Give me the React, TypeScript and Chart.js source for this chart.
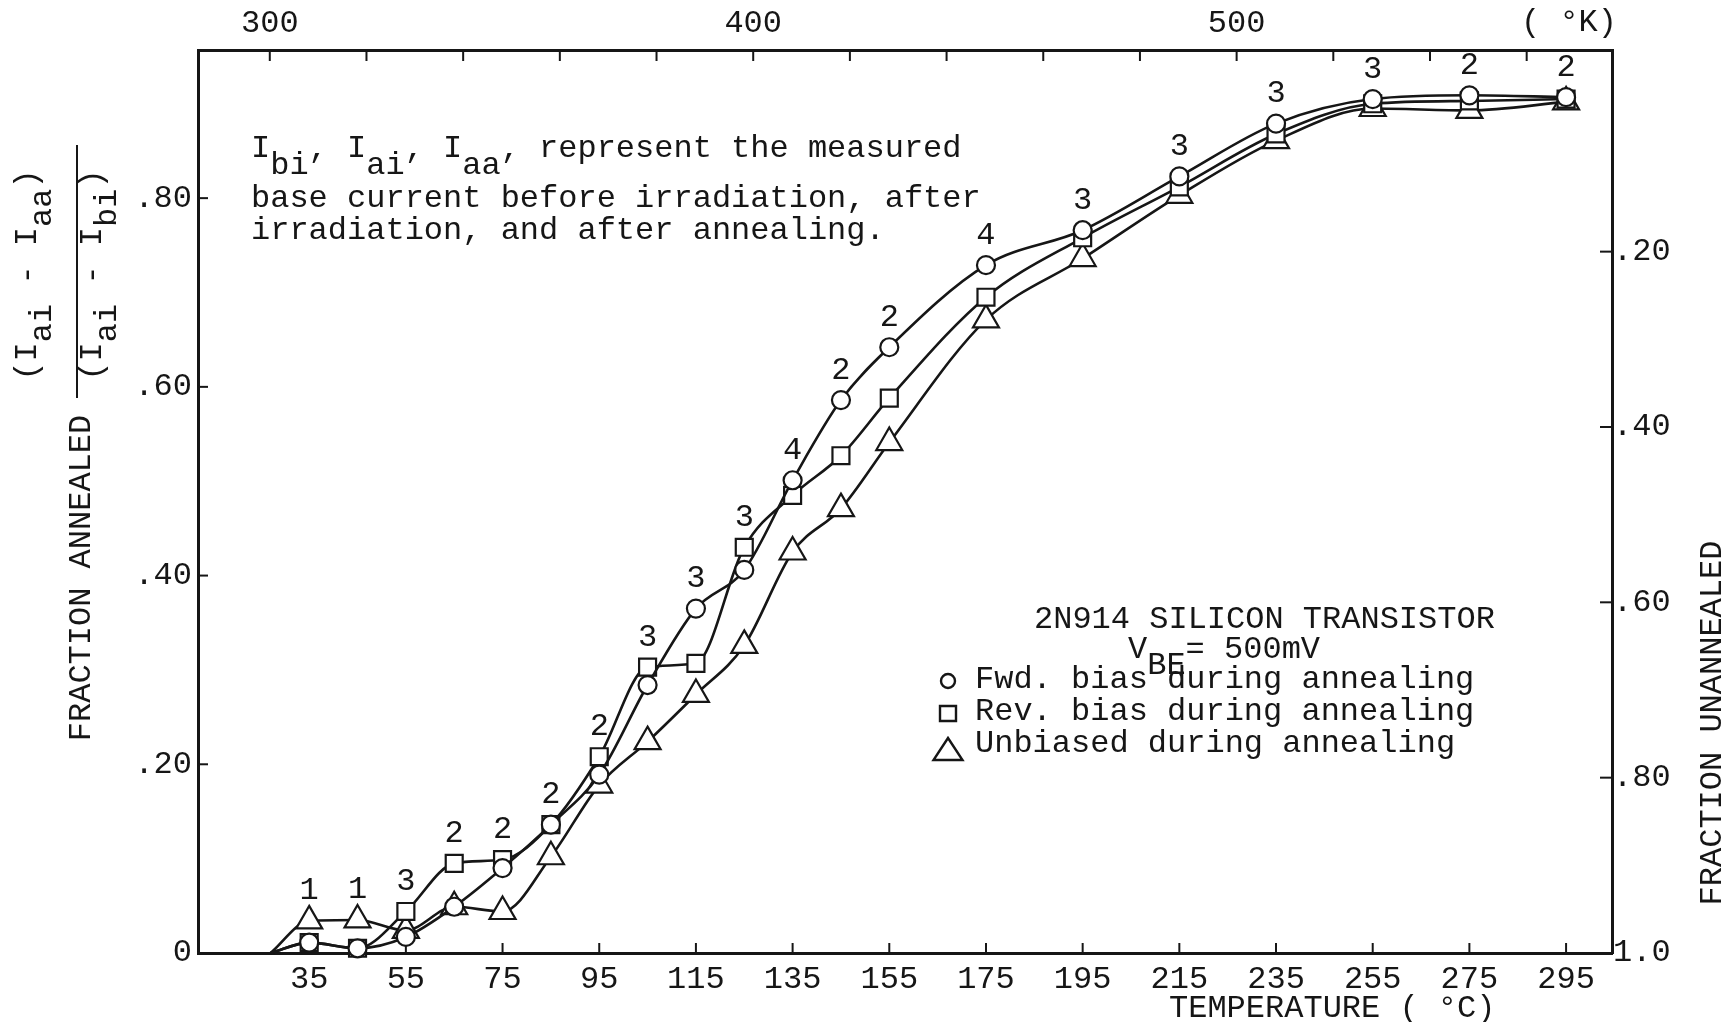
import React, { useEffect, useRef } from 'react';
import { Chart, registerables } from 'chart.js';

Chart.register(...registerables);

// ---------- data ----------
const temperaturesC = [27, 35, 45, 55, 65, 75, 85, 95, 105, 115, 125, 135, 145, 155, 175, 195, 215, 235, 255, 275, 295];
const fwdBias = [0, 0.011, 0.005, 0.017, 0.049, 0.090, 0.136, 0.189, 0.284, 0.365, 0.406, 0.501, 0.586, 0.642, 0.729, 0.766, 0.823, 0.879, 0.905, 0.909, 0.907];
const revBias = [0, 0.011, 0.005, 0.044, 0.095, 0.099, 0.136, 0.208, 0.303, 0.307, 0.430, 0.485, 0.527, 0.588, 0.695, 0.758, 0.812, 0.868, 0.900, 0.903, 0.905];
const unbiased = [0, 0.034, 0.035, 0.024, 0.049, 0.044, 0.102, 0.178, 0.224, 0.274, 0.326, 0.425, 0.471, 0.541, 0.671, 0.736, 0.803, 0.861, 0.895, 0.893, 0.902];
const sampleCounts = [null, 1, 1, 3, 2, 2, 2, 2, 3, 3, 3, 4, 2, 2, 4, 3, 3, 3, 3, 2, 2];
const seriesNames = ['Fwd. bias during annealing', 'Rev. bias during annealing', 'Unbiased during annealing'];

const celsiusTicks = [35, 55, 75, 95, 115, 135, 155, 175, 195, 215, 235, 255, 275, 295];
const kelvinTicks = [300, 320, 340, 360, 380, 400, 420, 440, 460, 480, 500, 520, 540, 560];
const kelvinLabels = [300, 400, 500];
const annealedTicks = [0, 0.2, 0.4, 0.6, 0.8];
const unannealedTicks = [0.2, 0.4, 0.6, 0.8, 1.0];

const X_MIN_C = 12;
const X_MAX_C = 304.5;
const KELVIN_OFFSET = 273.15;
const Y_MAX = 0.957;
const Y2_MIN = -0.03;
const Y2_MAX = 1.0;

const noteLine1: [string, number][] = [['I', 0], ['bi', 17], [', I', 0], ['ai', 17], [', I', 0], ['aa', 17], [', represent the measured', 0]];
const noteLine2 = 'base current before irradiation, after';
const noteLine3 = 'irradiation, and after annealing.';
const legendTitle = '2N914 SILICON TRANSISTOR';
const legendVbe: [string, number][] = [['V', 0], ['BE', 16], ['= 500mV', 0]];
const xTitle = 'TEMPERATURE ( °C)';
const x2Title = '( °K)';
const yTitle = 'FRACTION ANNEALED';
const y2Title = 'FRACTION UNANNEALED';
const fracNum: [string, number][] = [['(I', 0], ['ai', 15], [' - I', 0], ['aa', 15], [')', 0]];
const fracDen: [string, number][] = [['(I', 0], ['ai', 15], [' - I', 0], ['bi', 15], [')', 0]];

// ---------- styling ----------
const INK = '#161616';
const FONT = '"Liberation Mono", "Courier New", monospace';
const markerStyles = [
  { style: 'circle', radius: 9 },
  { style: 'rect', radius: 12 },
  { style: 'triangle', radius: 15 },
];

function drawRuns(ctx: CanvasRenderingContext2D, x: number, y: number, runs: [string, number][]) {
  let cx = x;
  for (const [t, dy] of runs) {
    ctx.fillText(t, cx, y + dy);
    cx += ctx.measureText(t).width;
  }
}
function runsWidth(ctx: CanvasRenderingContext2D, runs: [string, number][]) {
  return runs.reduce((w, [t]) => w + ctx.measureText(t).width, 0);
}
function seg(ctx: CanvasRenderingContext2D, x1: number, y1: number, x2: number, y2: number) {
  ctx.beginPath();
  ctx.moveTo(x1, y1);
  ctx.lineTo(x2, y2);
  ctx.stroke();
}
function legendMarker(ctx: CanvasRenderingContext2D, style: string, x: number, y: number) {
  ctx.beginPath();
  if (style === 'circle') ctx.arc(x, y, 7, 0, Math.PI * 2);
  else if (style === 'rect') ctx.rect(x - 8, y - 8, 16, 15);
  else {
    ctx.moveTo(x, y - 14);
    ctx.lineTo(x + 14.5, y + 8);
    ctx.lineTo(x - 14.5, y + 8);
    ctx.closePath();
  }
  ctx.fillStyle = '#fff';
  ctx.fill();
  ctx.stroke();
  ctx.fillStyle = INK;
}

const overlayPlugin = {
  id: 'overlay',
  beforeDatasetsDraw(chart: any) {
    const { ctx, chartArea: ca, scales } = chart;
    ctx.save();
    ctx.strokeStyle = INK;
    ctx.lineWidth = 2;
    scales.x.ticks.forEach((t: any) => {
      const p = scales.x.getPixelForValue(t.value);
      seg(ctx, p, ca.bottom, p, ca.bottom - 10);
    });
    scales.x2.ticks.forEach((t: any) => {
      const p = scales.x2.getPixelForValue(t.value);
      seg(ctx, p, ca.top, p, ca.top + 11);
    });
    scales.y.ticks.forEach((t: any) => {
      if (t.value === 0) return;
      const p = scales.y.getPixelForValue(t.value);
      seg(ctx, ca.left, p, ca.left + 10, p);
    });
    scales.y2.ticks.forEach((t: any) => {
      if (t.value === 1) return;
      const p = scales.y2.getPixelForValue(t.value);
      seg(ctx, ca.right, p, ca.right - 12, p);
    });
    ctx.restore();
  },
  afterDatasetsDraw(chart: any) {
    const { ctx } = chart;
    ctx.save();
    ctx.fillStyle = INK;
    ctx.strokeStyle = INK;
    ctx.font = `32px ${FONT}`;
    ctx.textAlign = 'center';
    ctx.textBaseline = 'middle';
    // sample counts above the highest marker at each temperature
    sampleCounts.forEach((n, i) => {
      if (n == null) return;
      let top = Infinity;
      let px = 0;
      chart.data.datasets.forEach((_: any, d: number) => {
        const el = chart.getDatasetMeta(d).data[i];
        if (el.y < top) { top = el.y; px = el.x; }
      });
      ctx.fillText(String(n), px, top - 30);
    });

    ctx.textAlign = 'left';
    ctx.textBaseline = 'alphabetic';
    // note block
    drawRuns(ctx, 251, 157, noteLine1);
    ctx.fillText(noteLine2, 251, 207);
    ctx.fillText(noteLine3, 251, 239);

    // legend block
    ctx.fillText(legendTitle, 1034, 628);
    drawRuns(ctx, 1128, 658, legendVbe);
    const baselines = [688, 720, 752];
    const markerY = [681, 714, 752];
    ctx.lineWidth = 2.4;
    chart.data.datasets.forEach((ds: any, k: number) => {
      legendMarker(ctx, markerStyles[k].style, 948, markerY[k]);
      ctx.fillText(ds.label, 975, baselines[k]);
    });

    // axis titles
    ctx.fillText(xTitle, 1169, 1017);
    ctx.fillText(x2Title, 1521, 31);

    ctx.save();
    ctx.translate(1721, 723);
    ctx.rotate(-Math.PI / 2);
    ctx.textAlign = 'center';
    ctx.fillText(y2Title, 0, 0);
    ctx.restore();

    ctx.save();
    ctx.translate(90, 578);
    ctx.rotate(-Math.PI / 2);
    ctx.textAlign = 'center';
    ctx.fillText(yTitle, 0, 0);
    ctx.restore();

    ctx.save();
    ctx.translate(36, 275);
    ctx.rotate(-Math.PI / 2);
    drawRuns(ctx, -runsWidth(ctx, fracNum) / 2, 0, fracNum);
    ctx.restore();

    ctx.save();
    ctx.translate(101, 275);
    ctx.rotate(-Math.PI / 2);
    drawRuns(ctx, -runsWidth(ctx, fracDen) / 2, 0, fracDen);
    ctx.restore();

    ctx.lineWidth = 2;
    seg(ctx, 77, 145, 77, 398);
    ctx.restore();
  },
};

export default function App() {
  const ref = useRef<HTMLCanvasElement>(null);

  useEffect(() => {
    const canvas = ref.current;
    if (!canvas) return;
    const seriesValues = [fwdBias, revBias, unbiased];
    const tickFont = { family: FONT, size: 32 };
    const chart = new Chart(canvas, {
      type: 'line',
      data: {
        datasets: seriesValues.map((vals, k) => ({
          label: seriesNames[k],
          data: temperaturesC.map((t, i) => ({ x: t, y: vals[i] })),
          borderColor: INK,
          borderWidth: 2.6,
          pointStyle: markerStyles[k].style,
          pointRadius: (c: any) => (c.dataIndex === 0 ? 0 : markerStyles[k].radius),
          pointBackgroundColor: '#ffffff',
          pointBorderColor: INK,
          pointBorderWidth: 2.2,
          cubicInterpolationMode: 'monotone',
          fill: false,
          clip: false,
        })) as any,
      },
      options: {
        responsive: false,
        animation: false,
        events: [],
        devicePixelRatio: 1,
        layout: { padding: 0 },
        plugins: { legend: { display: false }, tooltip: { enabled: false } },
        scales: {
          x: {
            type: 'linear',
            position: 'bottom',
            min: X_MIN_C,
            max: X_MAX_C,
            afterBuildTicks: (s: any) => { s.ticks = celsiusTicks.map((v) => ({ value: v })); },
            afterFit: (s: any) => { s.height = 69; },
            grid: { display: false, drawTicks: false },
            border: { display: true, color: INK, width: 3 },
            ticks: { font: tickFont, color: INK, padding: 7, autoSkip: false, maxRotation: 0, callback: (v: any) => String(v) },
          },
          x2: {
            type: 'linear',
            position: 'top',
            min: X_MIN_C + KELVIN_OFFSET,
            max: X_MAX_C + KELVIN_OFFSET,
            afterBuildTicks: (s: any) => { s.ticks = kelvinTicks.map((v) => ({ value: v })); },
            afterFit: (s: any) => { s.height = 50; },
            grid: { display: false, drawTicks: false },
            border: { display: true, color: INK, width: 3 },
            ticks: {
              font: tickFont, color: INK, padding: 7, autoSkip: false, maxRotation: 0,
              callback: (v: any) => (kelvinLabels.includes(Number(v)) ? String(v) : ''),
            },
          },
          y: {
            type: 'linear',
            position: 'left',
            min: 0,
            max: Y_MAX,
            afterBuildTicks: (s: any) => { s.ticks = annealedTicks.map((v) => ({ value: v })); },
            afterFit: (s: any) => { s.width = 198; },
            grid: { display: false, drawTicks: false },
            border: { display: true, color: INK, width: 3 },
            ticks: {
              font: tickFont, color: INK, padding: 6, autoSkip: false,
              callback: (v: any) => (Number(v) === 0 ? '0' : '.' + Math.round(Number(v) * 100)),
            },
          },
          y2: {
            type: 'linear',
            position: 'right',
            reverse: true,
            min: Y2_MIN,
            max: Y2_MAX,
            afterBuildTicks: (s: any) => { s.ticks = unannealedTicks.map((v) => ({ value: v })); },
            afterFit: (s: any) => { s.width = 114; },
            grid: { display: false, drawTicks: false },
            border: { display: true, color: INK, width: 3 },
            ticks: {
              font: tickFont, color: INK, padding: 1, autoSkip: false,
              callback: (v: any) => (Number(v) === 1 ? '1.0' : '.' + Math.round(Number(v) * 100)),
            },
          },
        },
      } as any,
      plugins: [overlayPlugin],
    });
    return () => chart.destroy();
  }, []);

  return (
    <div style={{ position: 'fixed', left: 0, top: 0, width: 1726, height: 1022, background: '#fff' }}>
      <canvas ref={ref} width={1726} height={1022} style={{ display: 'block', width: 1726, height: 1022 }} />
    </div>
  );
}
